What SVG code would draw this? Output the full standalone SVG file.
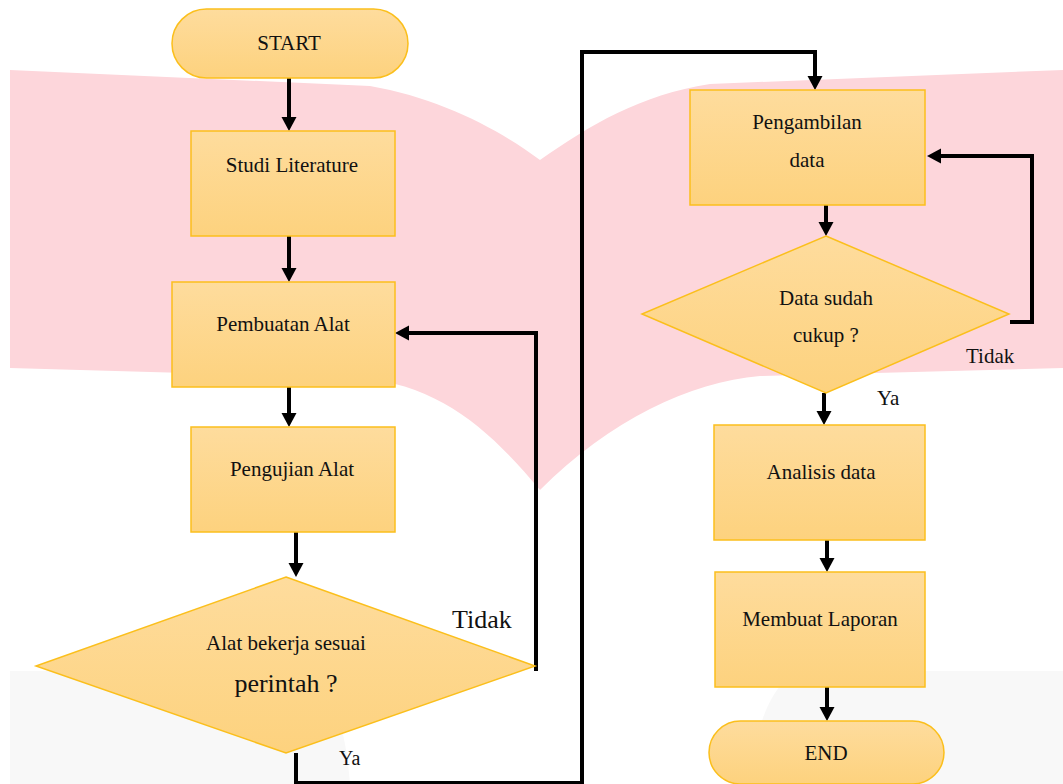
<svg xmlns="http://www.w3.org/2000/svg" width="1063" height="784" viewBox="0 0 1063 784">
<defs>
<linearGradient id="g" x1="0" y1="0" x2="0" y2="1">
<stop offset="0" stop-color="#fedc9d"/>
<stop offset="1" stop-color="#fdd27e"/>
</linearGradient>
<marker id="ah" markerUnits="userSpaceOnUse" markerWidth="16" markerHeight="16" refX="6" refY="7.5" orient="auto" viewBox="0 0 16 16">
<path d="M0,0 L14,7.5 L0,15 z" fill="#000"/>
</marker>
<style>
.n{fill:url(#g);stroke:#fbbf1c;stroke-width:1.5}
.t{font-family:"Liberation Serif","Times New Roman",serif;font-size:21px;fill:#111;text-anchor:middle}
.l{font-family:"Liberation Serif","Times New Roman",serif;fill:#111}
.c{fill:none;stroke:#000;stroke-width:4;marker-end:url(#ah)}
</style>
</defs>
<rect width="1063" height="784" fill="#fff"/>
<g id="watermark">
<path d="M10,70 L370,86 C440,98 500,130 540,160 C590,125 640,95 710,84 L1063,70 L1063,368 L760,376 C690,382 610,420 540,490 C490,430 440,385 360,378 L10,368 Z" fill="#fdd6db"/>
<path d="M10,671 L300,671 C330,680 345,720 350,784 L10,784 Z" fill="#f8f8f8"/>
<path d="M1063,671 L800,671 C775,680 755,720 750,784 L1063,784 Z" fill="#f8f8f8"/>
</g>
<g id="connectors">
<path class="c" d="M289,78 V123"/>
<path class="c" d="M289,236 V274"/>
<path class="c" d="M289,387 V419"/>
<path class="c" d="M296,532 V569"/>
<path class="c" d="M536,671 V333 H403"/>
<path class="c" d="M296,753 V783 H582 V52 H815 V82"/>
<path class="c" d="M826,205 V228"/>
<path class="c" d="M1010,322 H1032 V156 H935"/>
<path class="c" d="M824,393 V417"/>
<path class="c" d="M827,540 V564"/>
<path class="c" d="M827,687 V713"/>
</g>
<g id="start">
<rect class="n" x="172" y="9" width="236" height="69" rx="34.5"/>
<text class="t" x="289" y="50">START</text>
</g>
<g id="studi">
<rect class="n" x="191" y="131" width="204" height="105"/>
<text class="t" x="292" y="172">Studi Literature</text>
</g>
<g id="pembuatan">
<rect class="n" x="172" y="282" width="223" height="105"/>
<text class="t" x="283" y="331">Pembuatan Alat</text>
</g>
<g id="pengujian">
<rect class="n" x="191" y="427" width="204" height="105"/>
<text class="t" x="292" y="476">Pengujian Alat</text>
</g>
<g id="decision1">
<polygon class="n" points="286,577 535,666 286,753 36,666"/>
<text class="t" x="286" y="650">Alat bekerja sesuai</text>
<text class="t" x="286" y="692" style="font-size:26px">perintah ?</text>
</g>
<text class="l" x="452" y="628" font-size="26">Tidak</text>
<text class="l" x="339" y="765" font-size="20">Ya</text>
<g id="pengambilan">
<rect class="n" x="690" y="90" width="235" height="115"/>
<text class="t" x="807" y="129">Pengambilan</text>
<text class="t" x="807" y="167">data</text>
</g>
<g id="decision2">
<polygon class="n" points="826,236 1009,314 826,393 642,314"/>
<text class="t" x="826" y="305">Data sudah</text>
<text class="t" x="826" y="342">cukup ?</text>
</g>
<text class="l" x="966" y="363" font-size="21">Tidak</text>
<text class="l" x="877" y="405" font-size="21">Ya</text>
<g id="analisis">
<rect class="n" x="714" y="425" width="211" height="115"/>
<text class="t" x="821" y="479">Analisis data</text>
</g>
<g id="laporan">
<rect class="n" x="715" y="572" width="210" height="115"/>
<text class="t" x="820" y="626">Membuat Laporan</text>
</g>
<g id="end">
<rect class="n" x="709" y="721" width="235" height="63" rx="31.5"/>
<text class="t" x="826" y="760">END</text>
</g>
</svg>
